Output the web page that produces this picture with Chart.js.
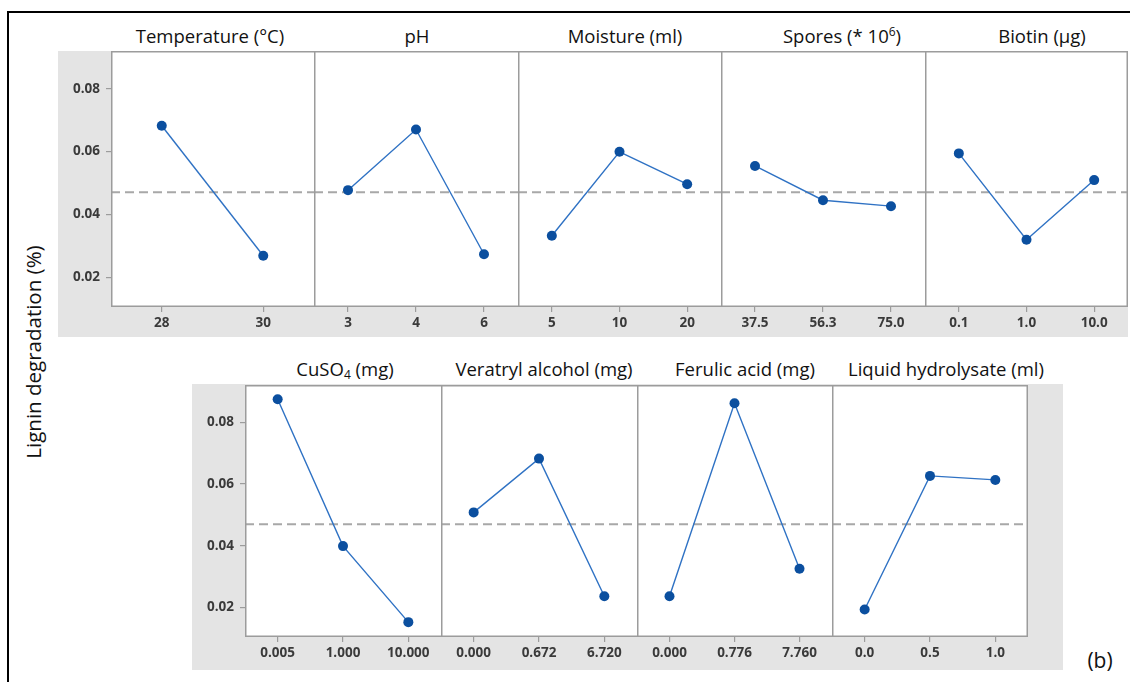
<!DOCTYPE html>
<html>
<head>
<meta charset="utf-8">
<script src="https://cdn.jsdelivr.net/npm/chart.js@4.4.1/dist/chart.umd.min.js"></script>
<style>
  html, body { margin: 0; padding: 0; background: #fff; }
  body { position: relative; width: 1130px; height: 682px; overflow: hidden; font-family: "Open Sans", sans-serif; }
  .frame { position: absolute; left: 7px; top: 11px; width: 1300px; height: 800px; border: 2.5px solid #000; }
  .band { position: absolute; background: #e4e4e4; }
  .panel { position: absolute; }
  .panel canvas { display: block; }
  .ttl { position: absolute; transform: translateX(-50%); white-space: nowrap; font-size: 18.5px; line-height: 19px; color: #111; }
  .ttl sup { font-size: 12px; vertical-align: 7px; line-height: 0; }
  .ttl sub { font-size: 12px; vertical-align: -3px; line-height: 0; }
  .ytitle { position: absolute; left: 33px; top: 352px; transform: translate(-50%, -50%) rotate(-90deg); white-space: nowrap; font-size: 20.5px; color: #111; }
  .tag { position: absolute; left: 1100px; top: 660px; transform: translate(-50%, -50%); font-size: 21px; color: #111; }
</style>
</head>
<body>
<div class="frame"></div>
<div class="band" style="left:58px; top:51px; width:1070px; height:286px;"></div>
<div class="band" style="left:192px; top:384px; width:871px; height:286px;"></div>
<div class="ytitle">Lignin degradation (%)</div>
<div class="tag">(b)</div>

<script>
// Main effects for lignin degradation (%) — mean response at each factor level
const temperatureLevels = ['28', '30'];
const temperatureMeans  = [0.0682, 0.0268];

const phLevels = ['3', '4', '6'];
const phMeans  = [0.0477, 0.0670, 0.0273];

const moistureLevels = ['5', '10', '20'];
const moistureMeans  = [0.0332, 0.0599, 0.0496];

const sporesLevels = ['37.5', '56.3', '75.0'];
const sporesMeans  = [0.0554, 0.0445, 0.0426];

const biotinLevels = ['0.1', '1.0', '10.0'];
const biotinMeans  = [0.0594, 0.0319, 0.0509];

const cuso4Levels = ['0.005', '1.000', '10.000'];
const cuso4Means  = [0.0874, 0.0399, 0.0153];

const veratrylLevels = ['0.000', '0.672', '6.720'];
const veratrylMeans  = [0.0508, 0.0682, 0.0237];

const ferulicLevels = ['0.000', '0.776', '7.760'];
const ferulicMeans  = [0.0237, 0.0861, 0.0326];

const hydrolysateLevels = ['0.0', '0.5', '1.0'];
const hydrolysateMeans  = [0.0194, 0.0626, 0.0613];

const factorTitlesTop    = ['Temperature (°C)', 'pH', 'Moisture (ml)', 'Spores (* 10<sup>6</sup>)', 'Biotin (µg)'];
const factorTitlesBottom = ['CuSO<sub>4</sub> (mg)', 'Veratryl alcohol (mg)', 'Ferulic acid (mg)', 'Liquid hydrolysate (ml)'];

const grandMean = 0.047;
const yTickValues = [0.02, 0.04, 0.06, 0.08];
const yMin = 0.0105;
const yMax = 0.092;

// ---- styling / layout ----
const LINE_COLOR = '#2f72c4';
const POINT_COLOR = '#0b4f9f';
const FRAME_COLOR = '#9c9c9c';
const TICK_COLOR = '#3a3a3a';
const TICK_FONT = { family: '"Open Sans", sans-serif', size: 13.5, weight: 'bold' };

const rows = [
  { left: 111, top: 51, step: 203.4, height: 256, titleTop: 26, titleX: [210, 417, 625, 842, 1042],
    titles: factorTitlesTop,
    panels: [[temperatureLevels, temperatureMeans], [phLevels, phMeans], [moistureLevels, moistureMeans],
             [sporesLevels, sporesMeans], [biotinLevels, biotinMeans]] },
  { left: 245, top: 385, step: 195.75, height: 252, titleTop: 359, titleX: [345, 544, 745, 946],
    titles: factorTitlesBottom,
    panels: [[cuso4Levels, cuso4Means], [veratrylLevels, veratrylMeans], [ferulicLevels, ferulicMeans],
             [hydrolysateLevels, hydrolysateMeans]] }
];

const AXIS_W = 53;
const AXIS_H = 30;

// white plotting area, dashed grand-mean reference and the panel frame
const panelDecor = {
  id: 'panelDecor',
  beforeDraw(chart) {
    const { ctx, chartArea: a } = chart;
    ctx.save();
    ctx.fillStyle = '#ffffff';
    ctx.fillRect(a.left, a.top, a.right - a.left, a.bottom - a.top);
    ctx.restore();
  },
  beforeDatasetsDraw(chart, args, opts) {
    const { ctx, chartArea: a, scales: { y } } = chart;
    const yy = y.getPixelForValue(opts.mean);
    ctx.save();
    ctx.strokeStyle = '#a8a8a8';
    ctx.lineWidth = 2;
    ctx.setLineDash([9, 5]);
    ctx.beginPath();
    ctx.moveTo(a.left, yy);
    ctx.lineTo(a.right, yy);
    ctx.stroke();
    ctx.restore();
  },
  afterDraw(chart, args, opts) {
    const { ctx, chartArea: a } = chart;
    ctx.save();
    ctx.strokeStyle = FRAME_COLOR;
    ctx.lineWidth = 1.5;
    ctx.beginPath();
    ctx.moveTo(a.left + 0.75, a.top);
    ctx.lineTo(a.left + 0.75, a.bottom - 0.75);
    ctx.lineTo(a.right, a.bottom - 0.75);
    ctx.moveTo(a.left, a.top + 0.75);
    ctx.lineTo(a.right, a.top + 0.75);
    if (opts.closeRight) {
      ctx.moveTo(a.right - 0.75, a.top);
      ctx.lineTo(a.right - 0.75, a.bottom);
    }
    ctx.stroke();
    ctx.restore();
  }
};

function makePanel(left, top, width, height, withAxis, closeRight, levels, means) {
  const axisW = withAxis ? AXIS_W : 0;
  const wrap = document.createElement('div');
  wrap.className = 'panel';
  wrap.style.left = (left - axisW) + 'px';
  wrap.style.top = top + 'px';
  const canvas = document.createElement('canvas');
  canvas.width = width + axisW;
  canvas.height = height + AXIS_H;
  canvas.style.width = canvas.width + 'px';
  canvas.style.height = canvas.height + 'px';
  wrap.appendChild(canvas);
  document.body.appendChild(wrap);

  new Chart(canvas.getContext('2d'), {
    type: 'line',
    data: {
      labels: levels,
      datasets: [{
        data: means,
        borderColor: LINE_COLOR,
        borderWidth: 1.4,
        tension: 0,
        pointRadius: 5,
        pointBackgroundColor: POINT_COLOR,
        pointBorderColor: POINT_COLOR,
        pointBorderWidth: 0,
        clip: false
      }]
    },
    options: {
      responsive: false,
      animation: false,
      devicePixelRatio: 1,
      layout: { padding: 0, autoPadding: false },
      events: [],
      plugins: {
        legend: { display: false },
        tooltip: { enabled: false },
        panelDecor: { mean: grandMean, closeRight }
      },
      scales: {
        x: {
          type: 'category',
          offset: true,
          border: { display: false },
          grid: { display: true, drawOnChartArea: false, drawTicks: true, tickLength: 5, color: FRAME_COLOR, lineWidth: 1.2 },
          ticks: { color: TICK_COLOR, font: TICK_FONT, padding: 3, maxRotation: 0, autoSkip: false },
          afterFit(s) { s.height = AXIS_H; s.paddingLeft = 0; s.paddingRight = 0; }
        },
        y: {
          display: withAxis,
          min: yMin,
          max: yMax,
          border: { display: false },
          grid: { display: true, drawOnChartArea: false, drawTicks: true, tickLength: 5, color: FRAME_COLOR, lineWidth: 1.2 },
          ticks: { color: TICK_COLOR, font: TICK_FONT, padding: 6, callback: v => v.toFixed(2) },
          afterBuildTicks(s) { s.ticks = yTickValues.map(v => ({ value: v })); },
          afterFit(s) { if (withAxis) s.width = AXIS_W; s.paddingTop = 0; s.paddingBottom = 0; }
        }
      }
    },
    plugins: [panelDecor]
  });
}

rows.forEach(row => {
  const n = row.panels.length;
  row.panels.forEach(([levels, means], i) => {
    const l = Math.round(row.left + i * row.step);
    const r = Math.round(row.left + (i + 1) * row.step);
    makePanel(l, row.top, r - l, row.height, i === 0, i === n - 1, levels, means);
  });
  row.titles.forEach((t, i) => {
    const d = document.createElement('div');
    d.className = 'ttl';
    d.innerHTML = t;
    d.style.left = row.titleX[i] + 'px';
    d.style.top = row.titleTop + 'px';
    document.body.appendChild(d);
  });
});
</script>
</body>
</html>
